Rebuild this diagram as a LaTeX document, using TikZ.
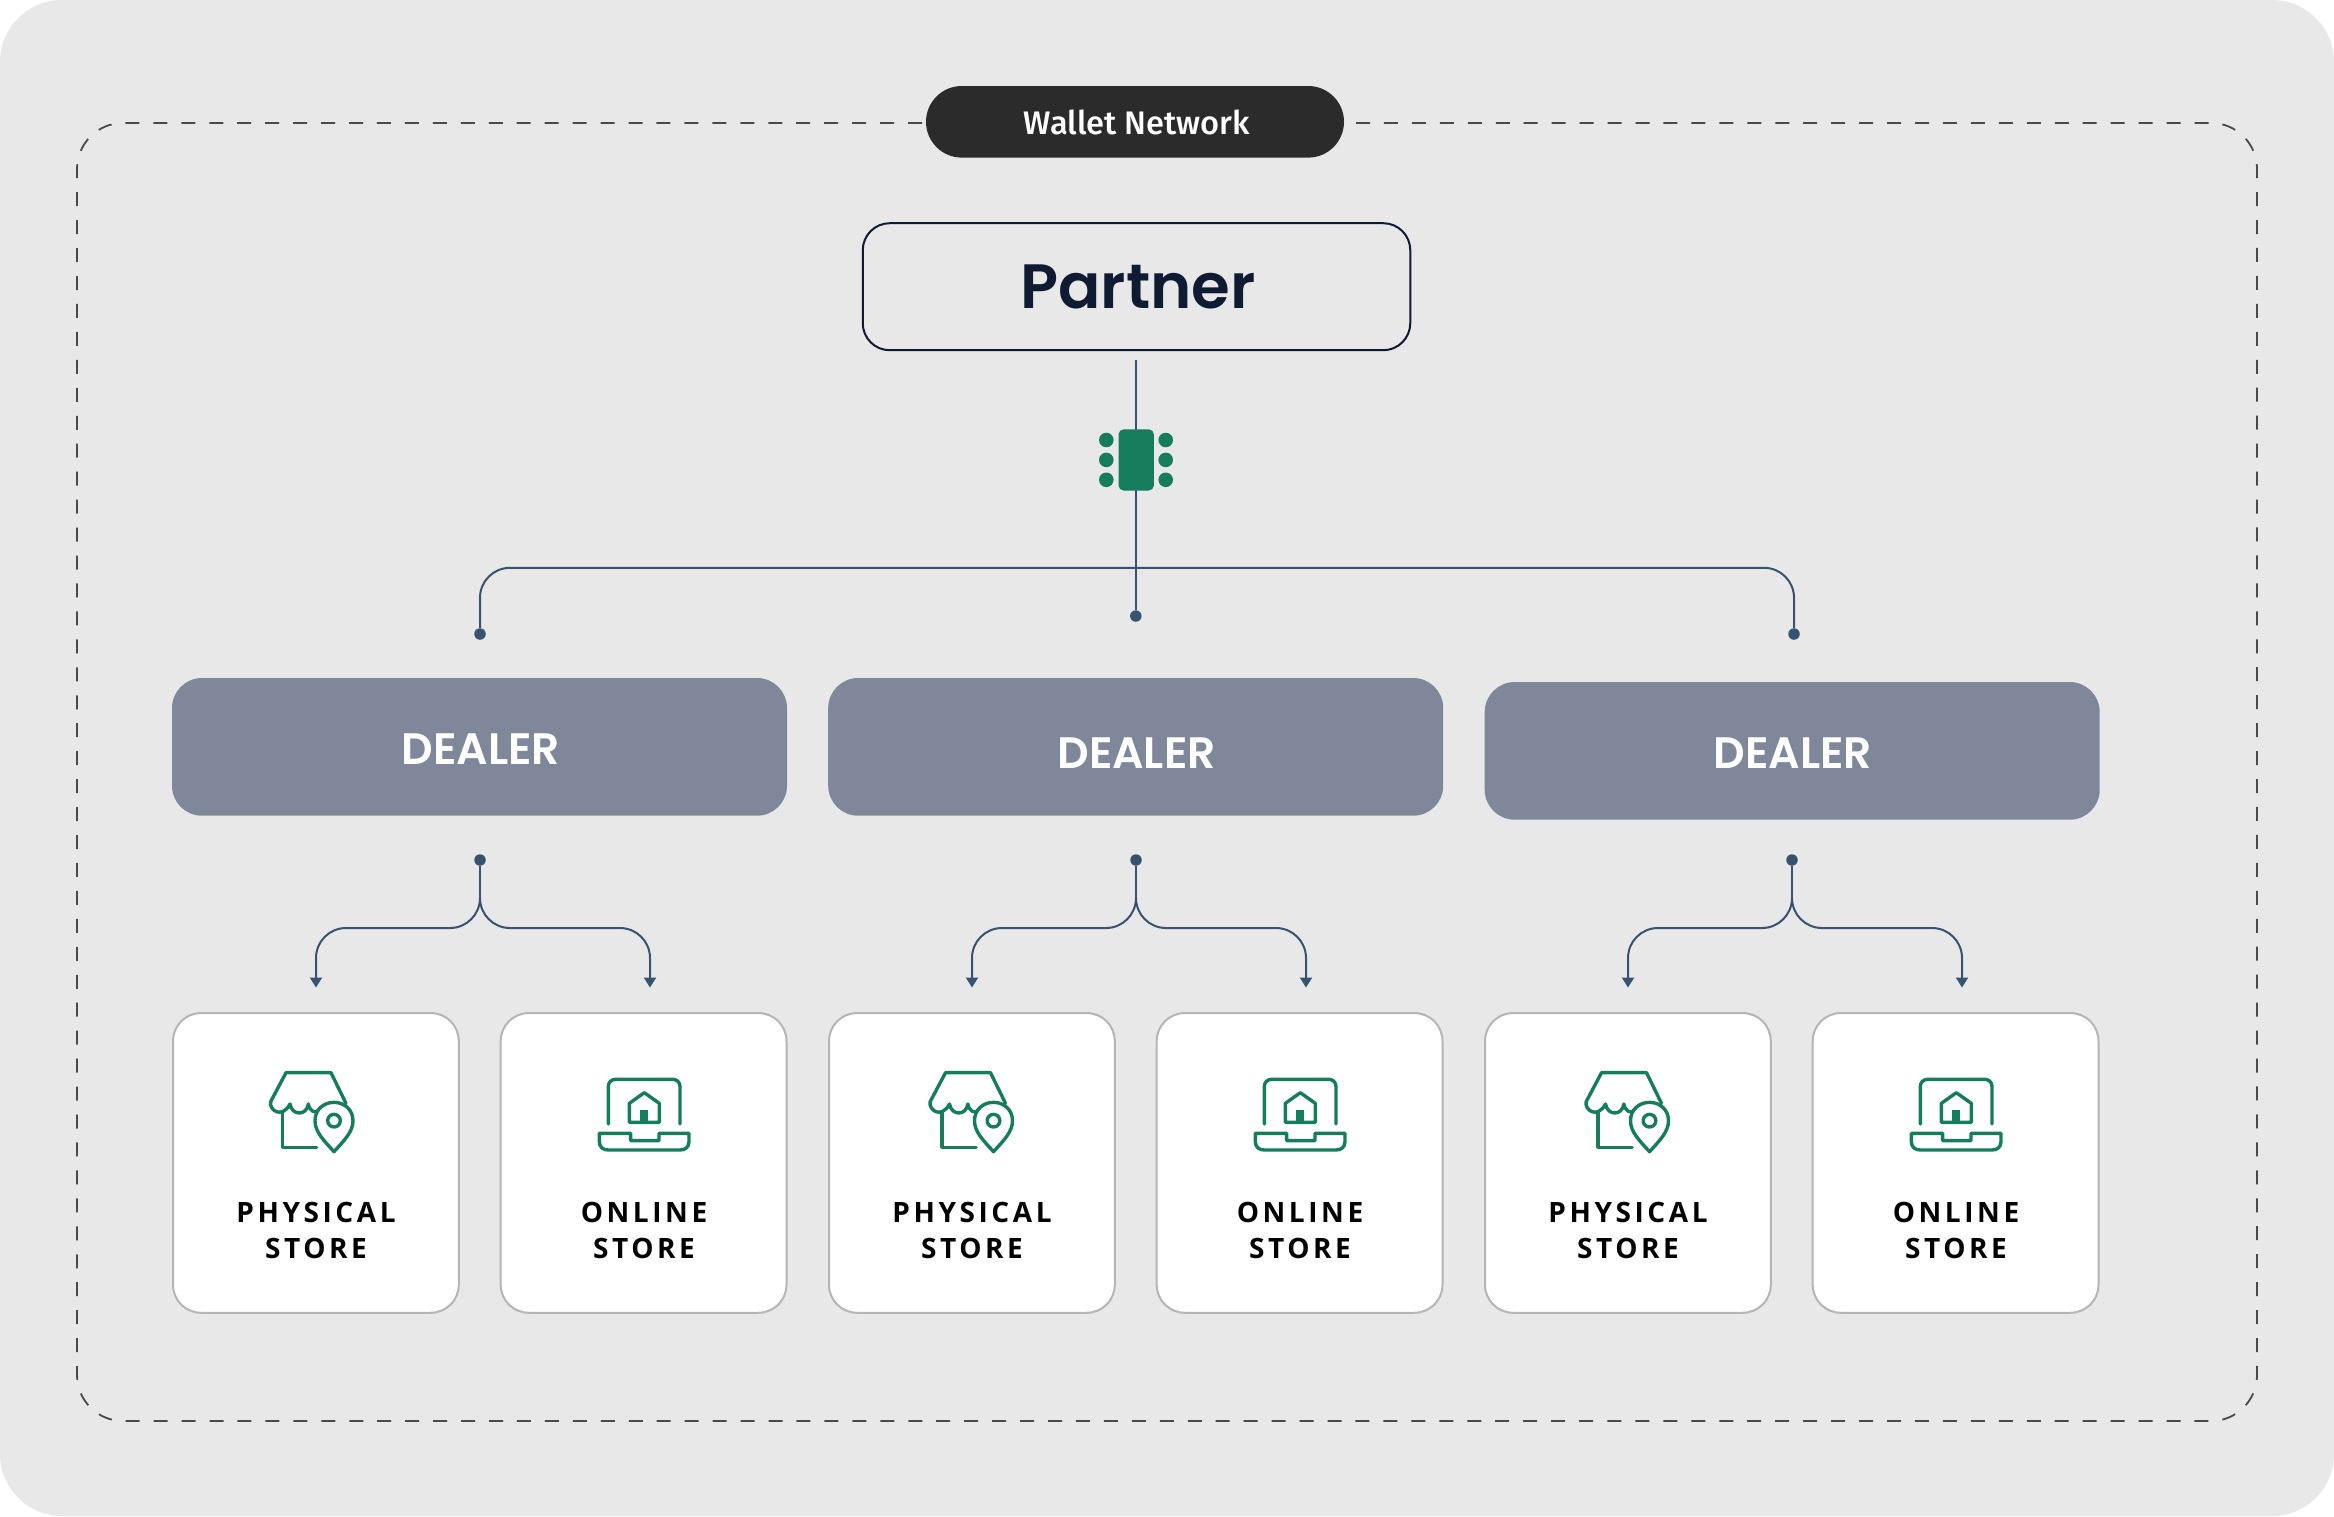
\documentclass[tikz,border=0pt]{standalone}
\usepackage{fontspec}
\usetikzlibrary{arrows.meta}
\setmainfont{Open Sans}
\newfontfamily\headfont{Poppins SemiBold}
\newfontfamily\pillfont{Fira Sans Medium}
\newfontfamily\cardfont[LetterSpace=12.8]{Open Sans Bold}
\definecolor{panel}{HTML}{E8E8E8}
\definecolor{ink}{HTML}{0F1A33}
\definecolor{pilldark}{HTML}{2B2B2B}
\definecolor{dashgrey}{HTML}{4A4A4A}
\definecolor{wirecol}{HTML}{37536F}
\definecolor{dealercol}{HTML}{7F879B}
\definecolor{leaf}{HTML}{157D5E}
\definecolor{cardedge}{HTML}{B5B5B5}
\tikzset{
  borderdash/.style={draw=dashgrey,line width=1.8pt,dash pattern=on 14pt off 13.95pt,rounded corners=46pt},
  wire/.style={draw=wirecol,line width=2pt},
  dotend/.style={circle,fill=wirecol,inner sep=0pt,minimum size=11.5pt},
  tipend/.style={-{Triangle[width=12pt,length=10pt]}},
  dealerbox/.style={rectangle,fill=dealercol,rounded corners=30pt,minimum width=615pt,minimum height=137.7pt,inner sep=0pt,outer sep=0pt},
  dealertext/.style={anchor=base,text=white,font=\headfont\fontsize{44}{44}\selectfont,inner sep=0pt},
  storecard/.style={rectangle,draw=cardedge,line width=2pt,fill=white,rounded corners=28pt,minimum width=285.8pt,minimum height=299.7pt,inner sep=0pt,outer sep=0pt},
  cardtext/.style={align=center,text=black,font=\cardfont\fontsize{28}{36}\selectfont,inner sep=0pt},
  chipdot/.style={circle,fill=leaf,inner sep=0pt,minimum size=14.6pt},
  iconline/.style={draw=leaf,line width=3.4pt,line join=round,line cap=round},
  storeicon/.pic={
    \begin{scope}[x=0.3333pt,y=-0.3333pt,iconline]
      \draw (32,125) -- (78,38) -- (213,38) -- (258,130);
      \draw (32,125) .. controls (26,150) and (66,178) .. (90,132)
            .. controls (96,168) and (140,168) .. (145,132)
            .. controls (150,155) and (165,162) .. (178,150);
      \draw (68,158) -- (68,262) -- (170,262);
      \draw[fill=white] (222,275) .. controls (190,240) and (165,215) .. (165,182)
            .. controls (165,150) and (190,127) .. (222,127)
            .. controls (254,127) and (279,150) .. (279,182)
            .. controls (279,215) and (254,240) .. (222,275) -- cycle;
      \draw (222,182) circle[radius=19];
    \end{scope}
  },
  laptopicon/.pic={
    \begin{scope}[x=0.3333pt,y=-0.3333pt,iconline]
      \draw[rounded corners=7pt] (55,162) -- (55,28) -- (270,28) -- (270,162);
      \draw (118,157) -- (118,100) -- (163,68) -- (208,100) -- (208,157) -- cycle;
      \fill[leaf] (150,120) rectangle (175,157);
      \draw (28,190) -- (122,190) -- (122,212) -- (207,212) -- (207,190) -- (297,190) -- (297,215)
            .. controls (297,232) and (285,240) .. (270,240) -- (55,240)
            .. controls (40,240) and (28,232) .. (28,215) -- cycle;
    \end{scope}
  },
}
\begin{document}
\begin{tikzpicture}[x=1pt,y=-1pt]
  \useasboundingbox (0,0) rectangle (2334,1516);
  \fill[white] (0,0) rectangle (2334,1516);
  \fill[panel,rounded corners=62pt] (0,0) rectangle (2334,1516);

  % Dashed network outline, open behind the title pill
  \coordinate (gapL) at (922,123);
  \coordinate (gapR) at (1356,123);
  \coordinate (seam) at (1600,1421);
  \draw[borderdash] (gapL) -- (77,123) -- (77,1421) -- (seam);
  \draw[borderdash] (gapR) -- (2257,123) -- (2257,1421) -- (seam);

  \node[rectangle,fill=pilldark,rounded corners=35.8pt,minimum width=418pt,minimum height=71.6pt,inner sep=0pt] (pill) at (1135,121.8) {};
  \node[anchor=base,text=white,inner sep=0pt,font=\pillfont\fontsize{32.6}{33}\selectfont] (pilllabel) at (1137,134.5) {Wallet Network};

  \node[rectangle,draw=ink,line width=2pt,rounded corners=27pt,minimum width=547.5pt,minimum height=127pt,inner sep=0pt] (partner) at (1136.5,286.7) {};
  \node[anchor=base,text=ink,inner sep=0pt,font=\headfont\fontsize{62.6}{63}\selectfont] (partnerlabel) at (1138,308) {Partner};

  % Trunk from the partner down through the chip, and the bar across the dealers
  \coordinate (trunktop) at (1135.8,360.4);
  \node[dotend] (dotB) at (1135.8,616) {};
  \node[dotend] (dotA) at (480,634) {};
  \node[dotend] (dotC) at (1794,634) {};
  \coordinate (bar) at (1135.8,567.8);
  \draw[wire] (trunktop) -- (dotB);
  \draw[wire,rounded corners=30pt] (dotA) -- (dotA |- bar) -- (dotC |- bar) -- (dotC);

  % Chip on the trunk
  \node[rectangle,fill=leaf,rounded corners=5pt,minimum width=35.2pt,minimum height=61.2pt,inner sep=0pt] (chip) at (1136.2,459.9) {};
  \foreach \n/\cx in {l/1106.3,r/1165.7}
    \foreach \m/\cy in {a/440,b/459.9,c/479.8}
      \node[chipdot] (chip\n\m) at (\cx,\cy) {};

  % Dealers
  \node[dealerbox] (dealerA) at (479.5,746.85) {};
  \node[dealerbox] (dealerB) at (1135.7,746.85) {};
  \node[dealerbox] (dealerC) at (1792.2,750.85) {};
  \node[dealertext] (dealerAtext) at (481,764.3) {DEALER};
  \node[dealertext] (dealerBtext) at (1136.6,768.3) {DEALER};
  \node[dealertext] (dealerCtext) at (1792.8,768.3) {DEALER};

  % One dealer's fork and its two store cards, repeated three times
  \foreach \g/\ox/\sx in {A/0/260,B/656/263.5,C/1312/263.5}{
    \begin{scope}[shift={(\ox,0)}]
      \node[dotend] (fork\g) at (480,860) {};
      \coordinate (join\g) at (480,898);
      \coordinate (rail\g) at (480,928);
      \coordinate (leftend\g) at (316,987.5);
      \coordinate (rightend\g) at (650,987.5);
      \draw[wire] (fork\g) -- (join\g);
      \draw[wire,tipend,rounded corners=30pt] (join\g) -- (rail\g) -- (leftend\g |- rail\g) -- (leftend\g);
      \draw[wire,tipend,rounded corners=30pt] (join\g) -- (rail\g) -- (rightend\g |- rail\g) -- (rightend\g);

      \node[storecard] (phys\g) at (315.9,1162.9) {};
      \node[storecard] (online\g) at (643.6,1162.9) {};
      \pic at (\sx,1060) {storeicon};
      \pic at (590,1070) {laptopicon};
      \node[cardtext] (physlabel\g) at (316,1230.2) {PHYSICAL\\STORE};
      \node[cardtext] (onlinelabel\g) at (644,1230.2) {ONLINE\\STORE};
    \end{scope}
  }
\end{tikzpicture}
\end{document}
